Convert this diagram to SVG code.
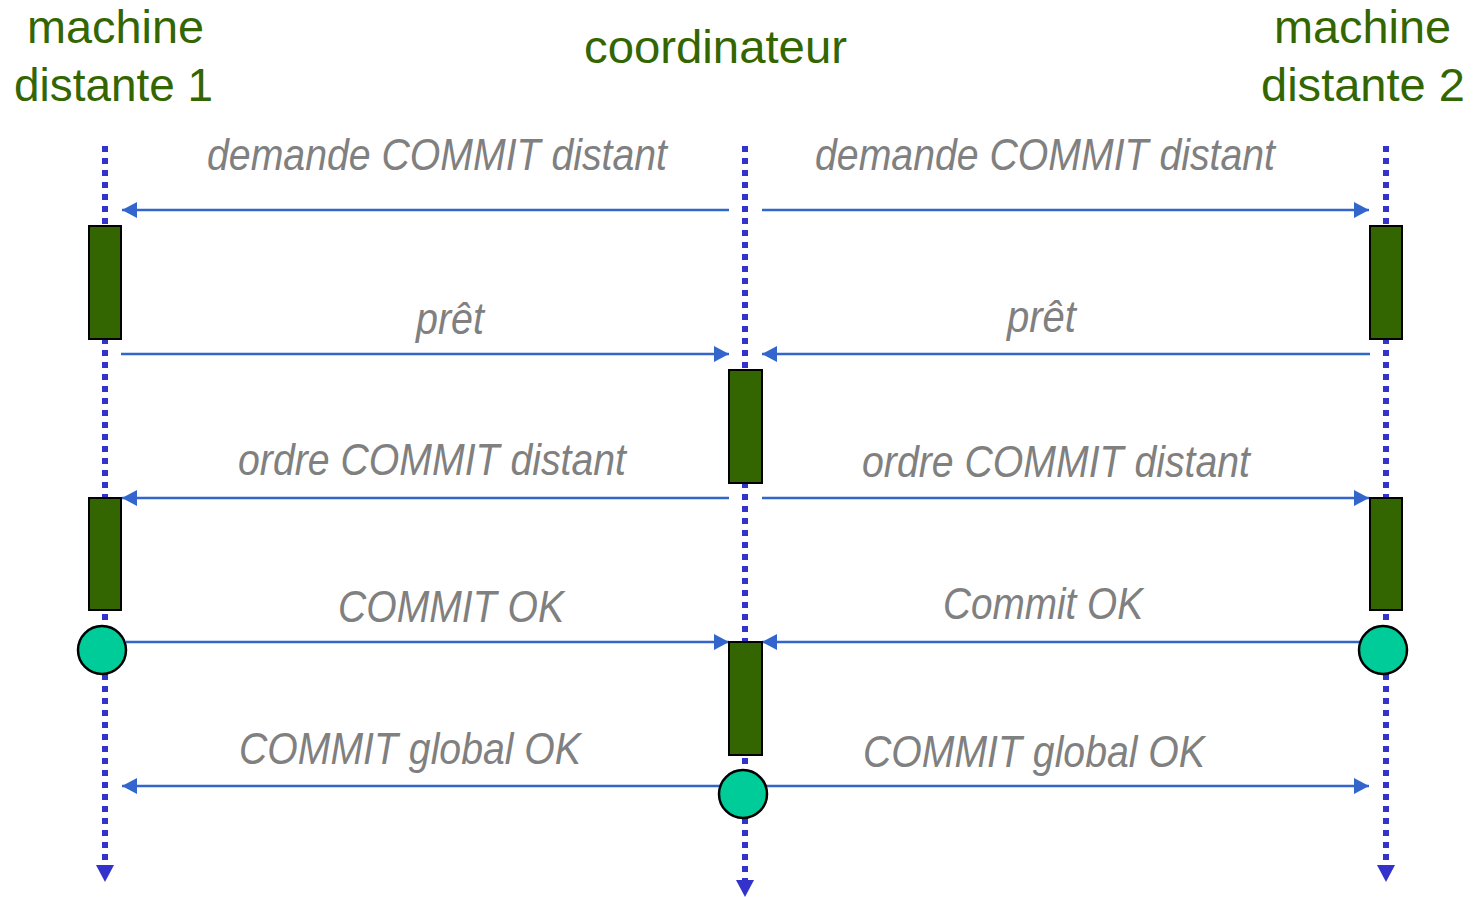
<svg xmlns="http://www.w3.org/2000/svg" width="1473" height="897" viewBox="0 0 1473 897">
  <style>
    .title { font-family: "Liberation Sans", Arial, sans-serif; font-size: 47px; fill: #336600; }
    .msg { font-family: "Liberation Sans", Arial, sans-serif; font-size: 44px; font-style: italic; fill: #808080; }
    .life { stroke: #3333CC; stroke-width: 6; stroke-dasharray: 6 6; fill: none; }
    .arrow { stroke: #3366CC; stroke-width: 2.5; fill: none; marker-end: url(#head); }
    .act { fill: #336600; stroke: #000; stroke-width: 2; }
    .done { fill: #00CC99; stroke: #000; stroke-width: 2.5; }
  </style>
  <defs>
    <marker id="head" viewBox="0 0 15 16" refX="15" refY="8" markerWidth="15" markerHeight="16" markerUnits="userSpaceOnUse" orient="auto">
      <path d="M0,0 L15,8 L0,16 Z" fill="#3366CC"/>
    </marker>
  </defs>
  <rect width="1473" height="897" fill="#fff"/>

  <!-- participant headings -->
  <g id="machine1">
    <text class="title" x="27" y="43" textLength="177" lengthAdjust="spacingAndGlyphs">machine</text>
    <text class="title" x="14" y="101" textLength="199" lengthAdjust="spacingAndGlyphs">distante 1</text>
  </g>
  <g id="coordinateur">
    <text class="title" x="584" y="63" textLength="263" lengthAdjust="spacingAndGlyphs">coordinateur</text>
  </g>
  <g id="machine2">
    <text class="title" x="1274" y="43" textLength="177" lengthAdjust="spacingAndGlyphs">machine</text>
    <text class="title" x="1261" y="101" textLength="204" lengthAdjust="spacingAndGlyphs">distante 2</text>
  </g>

  <!-- lifelines -->
  <g id="lifelines">
    <line class="life" x1="105" y1="146" x2="105" y2="866"/>
    <path d="M96,865 L114,865 L105,882 Z" fill="#3333CC"/>
    <line class="life" x1="745" y1="146" x2="745" y2="881"/>
    <path d="M736,880 L754,880 L745,897 Z" fill="#3333CC"/>
    <line class="life" x1="1386" y1="146" x2="1386" y2="866"/>
    <path d="M1377,865 L1395,865 L1386,882 Z" fill="#3333CC"/>
  </g>

  <!-- messages -->
  <g id="connectors">
    <line class="arrow" x1="729" y1="210" x2="122" y2="210"/>
    <line class="arrow" x1="762" y1="210" x2="1369" y2="210"/>
    <line class="arrow" x1="121" y1="354" x2="729" y2="354"/>
    <line class="arrow" x1="1370" y1="354" x2="762" y2="354"/>
    <line class="arrow" x1="729" y1="498" x2="122" y2="498"/>
    <line class="arrow" x1="762" y1="498" x2="1369" y2="498"/>
    <line class="arrow" x1="126" y1="642" x2="729" y2="642"/>
    <line class="arrow" x1="1360" y1="642" x2="762" y2="642"/>
    <line class="arrow" x1="720" y1="786" x2="122" y2="786"/>
    <line class="arrow" x1="766" y1="786" x2="1369" y2="786"/>
  </g>

  <!-- message labels -->
  <g id="labels">
    <text class="msg" x="207" y="170" textLength="460" lengthAdjust="spacingAndGlyphs">demande COMMIT distant</text>
    <text class="msg" x="815" y="170" textLength="460" lengthAdjust="spacingAndGlyphs">demande COMMIT distant</text>
    <text class="msg" x="416" y="334" textLength="68" lengthAdjust="spacingAndGlyphs">prêt</text>
    <text class="msg" x="1007" y="332" textLength="69" lengthAdjust="spacingAndGlyphs">prêt</text>
    <text class="msg" x="238" y="475" textLength="388" lengthAdjust="spacingAndGlyphs">ordre COMMIT distant</text>
    <text class="msg" x="862" y="477" textLength="388" lengthAdjust="spacingAndGlyphs">ordre COMMIT distant</text>
    <text class="msg" x="338" y="622" textLength="226" lengthAdjust="spacingAndGlyphs">COMMIT OK</text>
    <text class="msg" x="943" y="619" textLength="200" lengthAdjust="spacingAndGlyphs">Commit OK</text>
    <text class="msg" x="239" y="764" textLength="342" lengthAdjust="spacingAndGlyphs">COMMIT global OK</text>
    <text class="msg" x="863" y="767" textLength="342" lengthAdjust="spacingAndGlyphs">COMMIT global OK</text>
  </g>

  <!-- activations and completion points -->
  <g id="m1-prepare"><rect class="act" x="89" y="226" width="32" height="113"/></g>
  <g id="m2-prepare"><rect class="act" x="1370" y="226" width="32" height="113"/></g>
  <g id="coord-decide"><rect class="act" x="729" y="370" width="33" height="113"/></g>
  <g id="m1-commit"><rect class="act" x="89" y="498" width="32" height="112"/></g>
  <g id="m2-commit"><rect class="act" x="1370" y="498" width="32" height="112"/></g>
  <g id="coord-collect"><rect class="act" x="729" y="642" width="33" height="113"/></g>
  <g id="m1-ok"><circle class="done" cx="102" cy="650" r="24"/></g>
  <g id="m2-ok"><circle class="done" cx="1383" cy="650" r="24"/></g>
  <g id="coord-ok"><circle class="done" cx="743" cy="794" r="24"/></g>
</svg>
